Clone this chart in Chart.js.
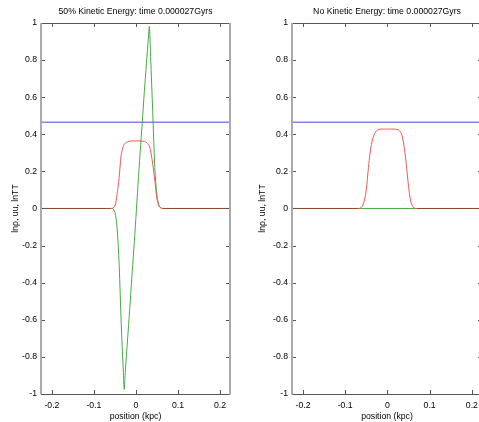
<!DOCTYPE html>
<html>
<head>
<meta charset="utf-8">
<script src="https://cdn.jsdelivr.net/npm/chart.js@4/dist/chart.umd.min.js"></script>
<style>
  html, body { margin: 0; padding: 0; background: #fff; overflow: hidden; width: 479px; height: 422px; }
  #c1 { position: absolute; left: 0; top: 0; }
  #c2 { position: absolute; left: 240px; top: 0; }
</style>
</head>
<body>
<canvas id="c1" width="240" height="422"></canvas>
<canvas id="c2" width="250" height="422"></canvas>
<script>
// ---- data ----
const titles = ['50% Kinetic Energy: time 0.000027Gyrs', 'No Kinetic Energy: time 0.000027Gyrs'];
const xTitle = 'position (kpc)';
const yTitle = 'ln\u03C1, uu, lnTT';
const xTicks = [-0.2, -0.1, 0, 0.1, 0.2];
const yTicks = [-1, -0.8, -0.6, -0.4, -0.2, 0, 0.2, 0.4, 0.6, 0.8, 1];

const positions = [-0.226, -0.07, -0.065, -0.06, -0.055, -0.05, -0.045, -0.04, -0.035, -0.03, -0.028,
  -0.025, -0.02, -0.015, -0.01, -0.005, 0, 0.005, 0.01, 0.015, 0.02, 0.025, 0.03, 0.032,
  0.035, 0.04, 0.045, 0.05, 0.055, 0.06, 0.065, 0.07, 0.224];

// 50% kinetic energy
const lnRhoKE = [0, 0, 0, 0, 0.002, 0.012, 0.075, 0.166, 0.29, 0.335, 0.345,
  0.353, 0.36, 0.363, 0.364, 0.364, 0.364, 0.364, 0.364, 0.363, 0.362, 0.356, 0.345, 0.336,
  0.31, 0.24, 0.15, 0.055, 0.012, 0.002, 0, 0, 0];
const uuKE = [0, 0, 0, 0, 0, -0.02, -0.1, -0.3, -0.62, -0.88, -0.975,
  -0.87, -0.71, -0.55, -0.38, -0.22, -0.05, 0.13, 0.3, 0.46, 0.63, 0.78, 0.93, 0.98,
  0.82, 0.52, 0.22, 0.07, 0.015, 0.002, 0, 0, 0];

// no kinetic energy
const lnRhoNoKE = [0, 0, 0.001, 0.01, 0.04, 0.1, 0.22, 0.315, 0.375, 0.405, 0.412,
  0.42, 0.426, 0.428, 0.428, 0.428, 0.428, 0.428, 0.428, 0.428, 0.427, 0.425, 0.415, 0.408,
  0.39, 0.327, 0.23, 0.12, 0.04, 0.01, 0.001, 0, 0];
const flatPositions = [-0.226, 0.224];
const uuNoKE = [0, 0];

const ttPositions = [-0.226, 0.224];
const lnTTKE = [0.465, 0.465];
const lnTTNoKE = [0.465, 0.465];

// ---- helpers ----
const FONT = { family: '"Liberation Sans", Arial, sans-serif', size: 8.7 };
const pts = (xs, ys) => xs.map((x, i) => ({ x: x, y: ys[i] }));
const fmt = v => String(Number(Number(v).toFixed(2)));
const BROWN = '#94452a';

const boxPlugin = {
  id: 'box',
  afterDatasetsDraw(chart) {
    const { ctx, chartArea: a, scales: { x, y } } = chart;
    ctx.save();
    const L = 4;
    ctx.lineWidth = 1;
    ctx.strokeStyle = '#555';
    ctx.beginPath();
    xTicks.forEach(v => {
      const px = Math.round(x.getPixelForValue(v)) + 0.5;
      ctx.moveTo(px, a.bottom); ctx.lineTo(px, a.bottom - L);
      ctx.moveTo(px, a.top); ctx.lineTo(px, a.top + L);
    });
    yTicks.forEach(v => {
      const py = Math.round(y.getPixelForValue(v)) + 0.5;
      ctx.moveTo(a.left, py); ctx.lineTo(a.left + L, py);
      ctx.moveTo(a.right, py); ctx.lineTo(a.right - L, py);
    });
    ctx.stroke();
    ctx.beginPath();
    ctx.moveTo(a.left, Math.round(a.top) + 0.5); ctx.lineTo(a.right, Math.round(a.top) + 0.5);
    ctx.moveTo(a.left, Math.round(a.bottom) + 0.5); ctx.lineTo(a.right, Math.round(a.bottom) + 0.5);
    ctx.stroke();
    ctx.lineWidth = 2;
    ctx.strokeStyle = '#aaa';
    ctx.beginPath();
    ctx.moveTo(Math.round(a.left), a.top); ctx.lineTo(Math.round(a.left), a.bottom + 0.5);
    ctx.moveTo(Math.round(a.right), a.top); ctx.lineTo(Math.round(a.right), a.bottom + 0.5);
    ctx.stroke();
    ctx.restore();
  }
};

function makeChart(id, title, rho, uuX, uu, tt, axisWidth, yTitlePad, rightPad) {
  const zeroBrown = c => (c.p0.parsed.y === 0 && c.p1.parsed.y === 0) ? BROWN : undefined;
  return new Chart(document.getElementById(id), {
    type: 'line',
    data: {
      datasets: [
        { label: 'lnTT', data: pts(ttPositions, tt), borderColor: 'rgb(130,130,245)', borderWidth: 1.6, pointRadius: 0, tension: 0, order: 3 },
        { label: 'uu', data: pts(uuX, uu), borderColor: 'rgb(70,170,70)', borderWidth: 1, pointRadius: 0, tension: 0.3, order: 2 },
        { label: 'ln\u03C1', data: pts(positions, rho), borderColor: 'rgb(245,85,85)', borderWidth: 1, pointRadius: 0, tension: 0.3, order: 1,
          segment: { borderColor: zeroBrown } }
      ]
    },
    options: {
      responsive: false,
      animation: false,
      events: [],
      layout: { padding: { left: 0, right: rightPad, top: 0, bottom: 0 } },
      plugins: {
        legend: { display: false },
        tooltip: { enabled: false },
        title: { display: true, text: title, color: '#000', fullSize: false,
          font: { family: FONT.family, size: FONT.size, weight: 'normal' }, padding: { top: 6, bottom: 6.5 } }
      },
      scales: {
        x: {
          type: 'linear', min: -0.226, max: 0.224,
          afterBuildTicks: s => { s.ticks = xTicks.map(v => ({ value: v })); },
          afterFit: s => { s.height = 28; },
          grid: { display: false, drawTicks: false },
          border: { display: false },
          ticks: { color: '#000', font: FONT, padding: 6, maxRotation: 0, autoSkip: false, callback: fmt },
          title: { display: true, text: xTitle, color: '#000', font: FONT, padding: { top: 0, bottom: 0 } }
        },
        y: {
          type: 'linear', min: -1, max: 1,
          afterBuildTicks: s => { s.ticks = yTicks.map(v => ({ value: v })); },
          afterFit: s => { s.width = axisWidth; },
          grid: { display: false, drawTicks: false },
          border: { display: false },
          ticks: { color: '#000', font: FONT, padding: 4, autoSkip: false, callback: fmt },
          title: { display: true, text: yTitle, color: '#000', font: FONT, padding: { top: yTitlePad, bottom: 0 } }
        }
      }
    },
    plugins: [boxPlugin]
  });
}

makeChart('c1', titles[0], lnRhoKE, positions, uuKE, lnTTKE, 41, 10, 10);
makeChart('c2', titles[1], lnRhoNoKE, flatPositions, uuNoKE, lnTTNoKE, 52, 17, 8);
</script>
</body>
</html>
